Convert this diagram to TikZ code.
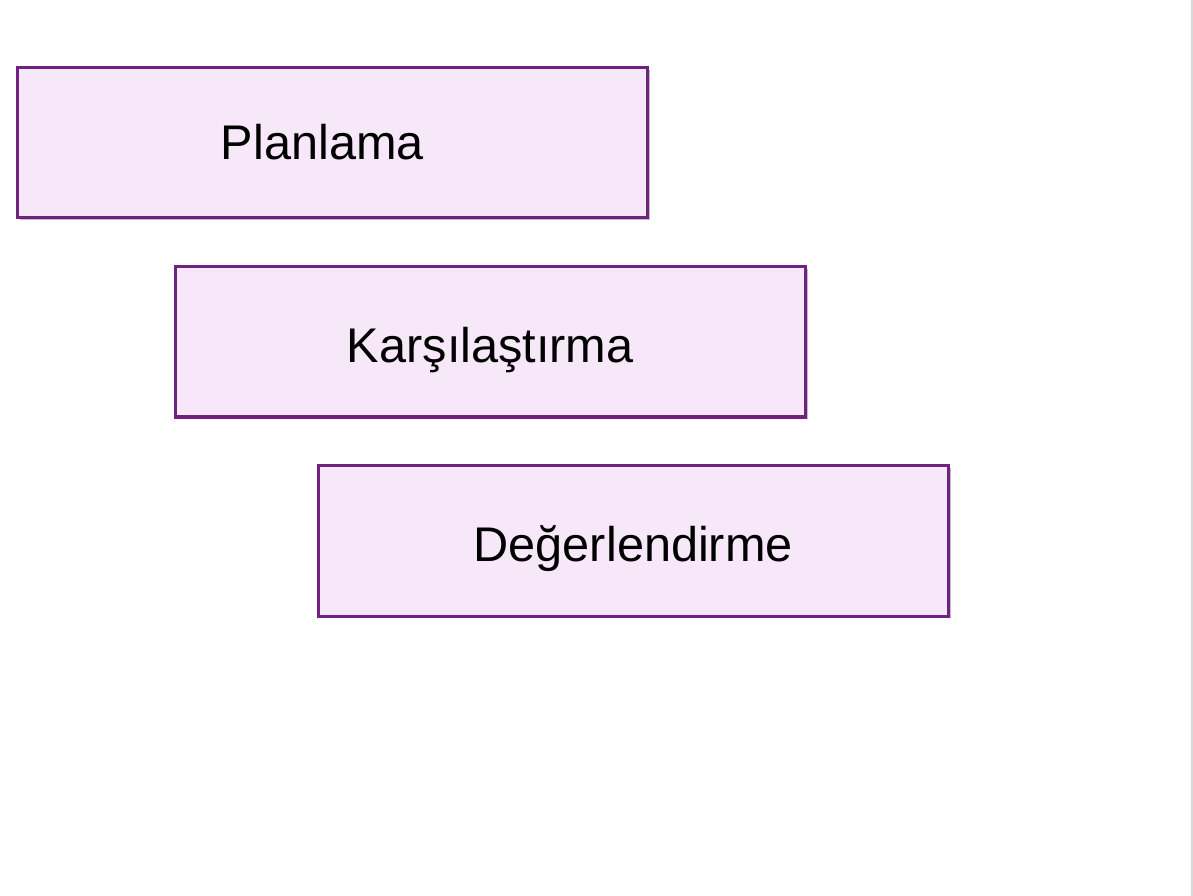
\documentclass[tikz,border=0pt]{standalone}
\usepackage{fontspec}
\setmainfont{Liberation Sans}
\usepackage{tikz}
\usetikzlibrary{positioning, shadows}
\usepackage{xcolor}
\definecolor{boxline}{HTML}{71217F}
\definecolor{boxfill}{HTML}{F6E8F8}
\newcommand{\lowtext}[1]{\raisebox{-6pt}[\height][\depth]{#1}}

\begin{document}
\begin{tikzpicture}[
    x=1pt, y=1pt,
    box/.style={rectangle, draw=boxline, line width=2.3pt, fill=boxfill, minimum width=472.5pt, minimum height=113pt, text centered, font=\fontsize{36.5}{42}\selectfont, drop shadow={shadow xshift=1.8pt, shadow yshift=-1.8pt, fill=black, opacity=0.25}}
]
\useasboundingbox (0,0) rectangle (894.75,-672);
\draw [black!15, line width=1pt] (894,0) -- (894,-672);
\node (plan) [box, anchor=north west] at (11.8,-49.3) {\hspace*{-15pt}Planlama};
\node (karsi) [box, below right=34pt and 118.5pt of plan.south west] {\lowtext{Karşılaştırma}};
\node (deger) [box, below right=34pt and 107.25pt of karsi.south west] {\lowtext{Değerlendirme}};
\end{tikzpicture}
\end{document}
